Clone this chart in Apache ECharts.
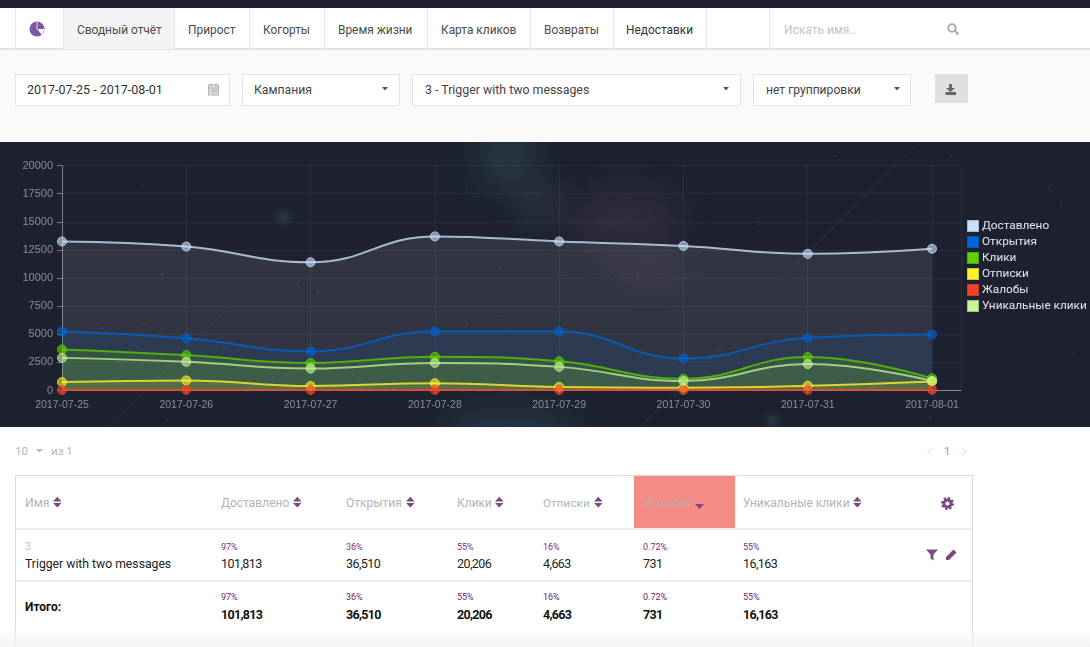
<!DOCTYPE html>
<html><head><meta charset="utf-8">
<script src="https://cdn.jsdelivr.net/npm/echarts@6/dist/echarts.min.js"></script>
<style>
html,body{margin:0;padding:0;background:#fff;width:1090px;height:647px;overflow:hidden;font-family:Roboto,"Noto Sans",sans-serif}
.a{position:absolute;white-space:nowrap}
.b{position:absolute;box-sizing:border-box}
#space{position:absolute;left:0;top:142px;width:1090px;height:285px;background:#1e2230;overflow:hidden}
#chart{position:absolute;left:0;top:142px;width:1090px;height:285px}
svg{position:absolute;overflow:visible}
</style></head><body>
<div class="b" style="left:0;top:0;width:1090px;height:8px;background:#1c2030"></div>
<div class="b" style="left:0;top:8px;width:1090px;height:42px;background:#fff;border-bottom:2px solid #e2e2e2"></div>
<div class="b" style="left:0;top:50px;width:1090px;height:92px;background:#fafafa"></div>
<div id="space">
<div class="b" style="left:480px;top:-20px;width:55px;height:70px;border-radius:50%;background:rgba(50,90,100,.38);filter:blur(14px)"></div>
<div class="b" style="left:515px;top:35px;width:50px;height:50px;border-radius:50%;background:rgba(60,70,90,.35);filter:blur(12px)"></div>
<div class="b" style="left:570px;top:50px;width:110px;height:60px;border-radius:50%;background:rgba(80,62,95,.35);filter:blur(16px)"></div>
<div class="b" style="left:610px;top:105px;width:80px;height:45px;border-radius:50%;background:rgba(80,62,90,.2);filter:blur(14px)"></div>
<div class="b" style="left:445px;top:268px;width:130px;height:40px;border-radius:50%;background:rgba(45,85,100,.4);filter:blur(14px)"></div>
<div class="b" style="left:277px;top:69px;width:12px;height:12px;border-radius:50%;background:rgba(80,120,125,.3);filter:blur(3px)"></div>
<div class="b" style="left:767px;top:273px;width:12px;height:12px;border-radius:50%;background:rgba(70,110,120,.35);filter:blur(3px)"></div>
<svg width="1090" height="285" style="left:0;top:0">
<g stroke="rgba(255,255,255,.05)" stroke-width="1">
<line x1="108" y1="285" x2="240" y2="155"/><line x1="760" y1="158" x2="920" y2="0"/><line x1="640" y1="285" x2="725" y2="202"/>
</g>
<g fill="rgba(255,255,255,.09)">
<circle cx="143" cy="43" r="1"/><circle cx="162" cy="132" r="1"/><circle cx="144" cy="181" r="1"/><circle cx="103" cy="186" r="1"/><circle cx="224" cy="206" r="1"/><circle cx="299" cy="139" r="1"/><circle cx="318" cy="150" r="1"/><circle cx="167" cy="278" r="1"/><circle cx="466" cy="45" r="1"/><circle cx="500" cy="127" r="1"/><circle cx="503" cy="174" r="1"/><circle cx="467" cy="183" r="1"/><circle cx="560" cy="130" r="1"/><circle cx="611" cy="131" r="1"/><circle cx="637" cy="132" r="1"/><circle cx="747" cy="66" r="1"/><circle cx="796" cy="34" r="1"/><circle cx="746" cy="171" r="1"/><circle cx="759" cy="82" r="1"/><circle cx="875" cy="82" r="1"/><circle cx="835" cy="14" r="1"/><circle cx="951" cy="14" r="1"/><circle cx="1051" cy="49" r="1"/><circle cx="1061" cy="63" r="1"/><circle cx="1073" cy="211" r="1"/><circle cx="930" cy="275" r="1"/><circle cx="822" cy="222" r="1"/>
</g></svg>
</div>
<div id="chart"></div>
<div id="chrome"></div>
<script>
// ---- chart data ----
const dates = ['2017-07-25','2017-07-26','2017-07-27','2017-07-28','2017-07-29','2017-07-30','2017-07-31','2017-08-01'];
const delivered = [13250,12800,11400,13700,13250,12850,12150,12600];
const opens = [5250,4650,3480,5250,5250,2850,4680,4980];
const clicks = [3650,3150,2450,3000,2600,1050,2980,1080];
const unsubscribes = [750,900,400,650,320,250,420,800];
const complaints = [60,70,50,60,50,50,60,70];
const uniqueClicks = [2900,2550,1950,2450,2100,850,2350,850];
const legendNames = ['Доставлено','Открытия','Клики','Отписки','Жалобы','Уникальные клики'];
// ---- page text ----
const navItems = ['Сводный отчёт','Прирост','Когорты','Время жизни','Карта кликов','Возвраты','Недоставки'];
const tableHeads = ['Имя','Доставлено','Открытия','Клики','Отписки','Жалобы','Уникальные клики'];
const pctRow = ['97%','36%','55%','16%','0.72%','55%'];
const valueRow = ['101,813','36,510','20,206','4,663','731','16,163'];

const seriesData = [delivered,opens,clicks,unsubscribes,complaints,uniqueClicks];
const solid = ['#c8e0fb','#0063d6','#5fd000','#fff22a','#f0432a','#c8f59a'];
const areaCol = ['#e4e6e4','#0a63c8','#5fd000','#fff22a','#f0432a','#c8f59a'];
const line = ['rgba(200,224,251,.8)','rgba(0,99,214,.8)','rgba(95,208,0,.75)','rgba(255,242,42,.8)','rgba(240,67,42,.8)','rgba(200,245,154,.75)'];
const fill = ['rgba(200,224,251,.6)','rgba(0,99,214,.6)','rgba(95,208,0,.6)','rgba(255,242,42,.6)','rgba(240,67,42,.65)','rgba(200,245,154,.6)'];
const area = [.1,.12,.17,.12,.1,.07];

const chart = echarts.init(document.getElementById('chart'),null,{renderer:'canvas'});
chart.setOption({
  animation:false,
  backgroundColor:'transparent',
  grid:{left:62,top:23.5,right:129,height:225},
  legend:{orient:'vertical',left:967,top:78,padding:0,itemWidth:10,itemHeight:10,itemGap:4,icon:'rect',
    textStyle:{color:'#e6e8ec',fontSize:11.8,fontFamily:'Roboto',lineHeight:11,padding:[0,0,0,-1]},
    data:legendNames.map((n,i)=>({name:n,icon:'rect',itemStyle:{color:solid[i],opacity:1}}))},
  xAxis:{type:'value',min:0,max:7.233,interval:1,
    axisLine:{onZero:false,lineStyle:{color:'rgba(255,255,255,.45)',width:1}},
    axisTick:{show:true,length:4,lineStyle:{color:'rgba(255,255,255,.4)'}},
    splitLine:{show:true,lineStyle:{color:'rgba(255,255,255,.05)'}},
    axisLabel:{color:'#8b8e96',fontSize:10.5,fontFamily:'Liberation Sans',margin:9,showMaxLabel:false,showMinLabel:true,hideOverlap:false,
      formatter:v=>dates[v]||''}},
  yAxis:{type:'value',min:0,max:20000,interval:2500,
    axisLine:{show:true,lineStyle:{color:'rgba(255,255,255,.4)',width:1}},
    axisTick:{show:true,length:5,lineStyle:{color:'rgba(255,255,255,.4)'}},
    splitLine:{show:true,lineStyle:{color:'rgba(255,255,255,.05)'}},
    axisLabel:{color:'#8b8e96',fontSize:11,fontFamily:'Liberation Sans',margin:9,formatter:v=>String(v)}},
  series:legendNames.map((n,i)=>({
    name:n,type:'line',smooth:.45,symbol:'circle',symbolSize:9,showSymbol:true,
    data:seriesData[i].map((v,j)=>[j,v]),
    lineStyle:{color:line[i],width:2},
    itemStyle:{color:fill[i],borderColor:line[i],borderWidth:1},
    areaStyle:{color:areaCol[i],opacity:area[i]},
    emphasis:{disabled:true}
  }))
});

// ---- page chrome ----
const root=document.getElementById('chrome');
function box(x,y,w,h,st){const d=document.createElement('div');d.className='b';d.style.cssText+=`left:${x}px;top:${y}px;width:${w}px;height:${h}px;${st||''}`;root.appendChild(d);return d;}
function txt(x,cy,s,st){const d=document.createElement('div');d.className='a';d.textContent=s;d.style.cssText+=`left:${x}px;top:${cy-10}px;line-height:20px;${st||''}`;root.appendChild(d);return d;}
function svg(x,y,w,h,inner){const d=document.createElement('div');d.innerHTML=`<svg style="left:${x}px;top:${y}px" width="${w}" height="${h}" viewBox="0 0 ${w} ${h}">${inner}</svg>`;root.appendChild(d);}

// nav
box(63,8,111,41,'background:#f4f4f4');
[15,63,174,249,324,427,530,613,706,769].forEach(x=>box(x,8,1,41,'background:#e6e6e6'));
const navX=[77,188,263,338,441,544,626];
navItems.forEach((s,i)=>txt(navX[i],29.5,s,'font-size:11.9px;color:'+(i==6?'#333':'#4a4a4a')+';'));
svg(29,21,16,16,'<circle cx="8" cy="8" r="7.5" fill="#7e57a8"/><path d="M8 8 L15.5 8 L13 14 Z" fill="#fff"/><path d="M8 8 L8 .5" stroke="#fff" stroke-width=".8"/>');
txt(784,29.5,'Искать имя..','font-size:12px;color:#c4c4c4');
svg(947,23,13,13,'<circle cx="5" cy="5" r="3.8" fill="none" stroke="#a8a8a8" stroke-width="1.8"/><line x1="8" y1="8" x2="11.5" y2="11.5" stroke="#a8a8a8" stroke-width="2"/>');

// filters
[[15,215],[242,158],[412,329],[753,158]].forEach(b=>box(b[0],74,b[1],32,'background:#fff;border:1.5px solid #e4e4e4'));
txt(27,90,'2017-07-25 - 2017-08-01','font-size:12.5px;color:#333');
txt(254,90,'Кампания','font-size:12.2px;color:#444');
txt(425,90,'3 - Trigger with two messages','font-size:12.35px;color:#444');
txt(766,90,'нет группировки','font-size:12.1px;color:#444');
svg(208,83,12,13,'<rect x=".5" y="2" width="10" height="10" fill="#e0e0e0" stroke="#b0b0b0"/><path d="M.5 5H10.5M3 7H9M3 9H9M3 0v3M8 0v3" stroke="#b0b0b0" fill="none"/>');
[382,723,894].forEach(x=>svg(x,87,6,4,'<path d="M0 0H6L3 3.5Z" fill="#555"/>'));
box(935,74,33,29,'background:#e0e0e0');
svg(945,84,12,12,'<path d="M4 0H7V4H10L5.5 8L1 4H4Z" fill="#666"/><rect x=".5" y="8" width="10.5" height="3" fill="#666"/>');

// pagination
txt(15,451,'10','font-size:11.5px;color:#b5b5b5');
svg(36,449,7,4,'<path d="M0 0H7L3.5 3.5Z" fill="#b5b5b5"/>');
txt(51,451,'из 1','font-size:11.5px;color:#b5b5b5');
svg(927,447,6,9,'<path d="M4.5 1L1 4.5L4.5 8" fill="none" stroke="#d4d4d4" stroke-width="1"/>');
txt(944,451,'1','font-size:11.5px;color:#a0a0a0');
svg(961,447,6,9,'<path d="M1 1L4.5 4.5L1 8" fill="none" stroke="#d4d4d4" stroke-width="1"/>');

// table
box(15,475,957.5,190,'border:1.5px solid #dcdcdc;background:#fff');
box(634,476,101,53,'background:#f48b84');
box(16,528,956,1.5,'background:#ececec');
box(16,580,956,1.5,'background:#ebebeb');
const colX=[25,221,346,457,543,643,743];
const arrowX=[52.5,293,405.5,495,594,694,852.5];
const headSize=[12.2,12,12,12,11.8,12,12];
tableHeads.forEach((s,i)=>{txt(colX[i],503,s,'font-size:'+headSize[i]+'px;color:'+(i==5?'#c9a6a2':'#b4b4b4'));
  if(i==5) svg(arrowX[i],499,12,12,'<path d="M1 5H10L5.5 10Z" fill="#7b4a80"/>');
  else svg(arrowX[i],496,9,13,'<path d="M0 5.4H8.6L4.3 .8Z M0 7H8.6L4.3 11.6Z" fill="#7b4a80"/>');
});
svg(941,497,13,13,'<circle cx="6.5" cy="6.5" r="3.6" fill="none" stroke="#7b4a80" stroke-width="3"/><circle cx="6.5" cy="6.5" r="5.4" fill="none" stroke="#7b4a80" stroke-width="2.2" stroke-dasharray="2.2 2"/>');
txt(25,547,'3','font-size:10.5px;color:#c0c0c0');
txt(25,564,'Trigger with two messages','font-size:12.2px;color:#222');
txt(25,607,'Итого:','font-size:12px;font-weight:700;color:#111');
colX.slice(1).forEach((x,i)=>{
  txt(x,547,pctRow[i],'font-size:9px;color:#7b2d80');
  txt(x,564,valueRow[i],'font-size:12.5px;letter-spacing:-.55px;color:#222');
  txt(x,597,pctRow[i],'font-size:9px;color:#6b2570');
  txt(x,615,valueRow[i],'font-size:12.5px;letter-spacing:-.7px;font-weight:700;color:#111');
});
svg(926,549,12,12,'<path d="M0 .5H12L7.5 5.5V11.5L4.5 9.5V5.5Z" fill="#7b4a80"/>');
svg(945,549,12,12,'<path d="M1 8L8.5 .5L11.5 3.5L4 11H1Z" fill="#7b4a80"/>');
box(0,627,1090,20,'background:linear-gradient(rgba(245,245,245,0),rgba(242,242,242,.95))');
</script>
</body></html>
